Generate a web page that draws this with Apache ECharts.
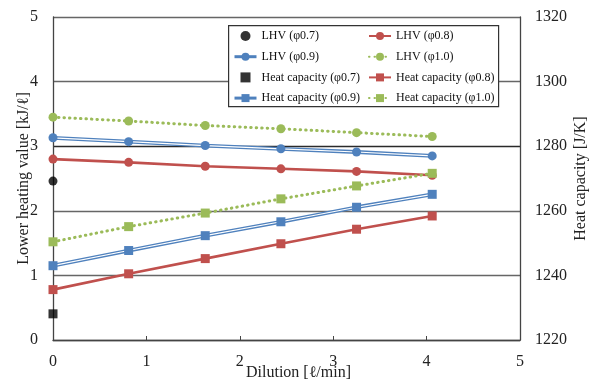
<!DOCTYPE html>
<html>
<head>
<meta charset="utf-8">
<script src="https://cdn.jsdelivr.net/npm/echarts@6/dist/echarts.min.js"></script>
<style>
  html, body { margin: 0; padding: 0; background: #fff; }
  #chart { width: 594px; height: 388px; }
</style>
</head>
<body>
<div id="chart"></div>
<script>
// Dilution flow rates [l/min]
const dilution = [0, 0.81, 1.63, 2.44, 3.25, 4.06];

// Lower heating value [kJ/l] per equivalence ratio
const lhv07 = [2.46];
const lhv08 = [2.80, 2.75, 2.69, 2.65, 2.61, 2.55];
const lhv09 = [3.13, 3.07, 3.01, 2.96, 2.91, 2.85];
const lhv10 = [3.45, 3.39, 3.32, 3.27, 3.21, 3.15];

// Heat capacity [J/K] per equivalence ratio
const hc07 = [1228.1];
const hc08 = [1235.6, 1240.5, 1245.2, 1249.8, 1254.3, 1258.4];
const hc09 = [1243.0, 1247.7, 1252.3, 1256.6, 1261.1, 1265.1];
const hc10 = [1250.4, 1255.1, 1259.3, 1263.7, 1267.7, 1271.6];

const leftTicks = [0, 1, 2, 3, 4, 5];
const rightTicks = [1220, 1240, 1260, 1280, 1300, 1320];
const xTicks = [0, 1, 2, 3, 4, 5];

const RED = '#C0504D', BLUE = '#4F81BD', GREEN = '#9BBB59', BLACK = '#000';
const FONT = "'Liberation Serif', 'Times New Roman', serif";
const SQUARE = 'path://M0,0L10,0L10,10L0,10Z';

const pairs = (xs, ys) => ys.map((y, i) => [xs[i], y]);

function solid(name, ys, axis, color, symbol) {
  return {
    name, type: 'line', yAxisIndex: axis, data: pairs(dilution, ys),
    symbol, symbolSize: 9, showSymbol: true,
    lineStyle: { color, width: 2.6 }, itemStyle: { color },
    z: 3
  };
}
function dotted(name, ys, axis, symbol) {
  return {
    name, type: 'line', yAxisIndex: axis, data: pairs(dilution, ys),
    symbol, symbolSize: 9,
    lineStyle: { color: GREEN, width: 3, type: [0.5, 5], cap: 'round' },
    itemStyle: { color: GREEN }, z: 3
  };
}
// double (compound) line: wide blue stroke under a thin white core
function doubleOutline(ys, axis) {
  return {
    name: '_outline', type: 'line', yAxisIndex: axis, data: pairs(dilution, ys),
    symbol: 'none', silent: true,
    lineStyle: { color: BLUE, width: 3.8 }, z: 3
  };
}
function doubleCore(name, ys, axis, symbol) {
  return {
    name, type: 'line', yAxisIndex: axis, data: pairs(dilution, ys),
    symbol, symbolSize: 9,
    lineStyle: { color: '#fff', width: 1.2 }, itemStyle: { color: BLUE }, z: 3
  };
}
function single(name, ys, axis, symbol) {
  return {
    name, type: 'scatter', yAxisIndex: axis, data: pairs(dilution, ys),
    symbol, symbolSize: 9, itemStyle: { color: BLACK }, z: 3
  };
}

const series = [
  single('LHV (φ0.7)', lhv07, 0, 'circle'),
  solid('LHV (φ0.8)', lhv08, 0, RED, 'circle'),
  doubleOutline(lhv09, 0),
  doubleCore('LHV (φ0.9)', lhv09, 0, 'circle'),
  dotted('LHV (φ1.0)', lhv10, 0, 'circle'),
  single('Heat capacity (φ0.7)', hc07, 1, 'rect'),
  solid('Heat capacity (φ0.8)', hc08, 1, RED, 'rect'),
  doubleOutline(hc09, 1),
  doubleCore('Heat capacity (φ0.9)', hc09, 1, 'rect'),
  dotted('Heat capacity (φ1.0)', hc10, 1, 'rect')
];

const legendCommon = {
  orient: 'vertical', padding: 0, top: 29,
  itemWidth: 22, itemHeight: 10, itemGap: 6.7,
  selectedMode: false,
  textStyle: { fontFamily: FONT, fontSize: 12, color: '#111', lineHeight: 14 },
  z: 10
};

const axisText = { fontFamily: FONT, fontSize: 16, color: '#222' };

const option = {
  animation: false,
  backgroundColor: '#fff',
  textStyle: { fontFamily: FONT },
  grid: { left: 53, right: 74, top: 17, bottom: 48, containLabel: false, outerBoundsMode: 'none' },
  graphic: [{
    type: 'rect', left: 228, top: 25, z: 5,
    shape: { width: 270, height: 81 },
    style: { fill: '#fff', stroke: '#333', lineWidth: 1.2 }
  }],
  legend: [
    Object.assign({}, legendCommon, {
      left: 233,
      data: [
        { name: 'LHV (φ0.7)', icon: 'circle', itemStyle: { color: BLACK } },
        { name: 'LHV (φ0.9)', lineStyle: { color: BLUE, width: 3 } },
        { name: 'Heat capacity (φ0.7)', icon: SQUARE, itemStyle: { color: BLACK } },
        { name: 'Heat capacity (φ0.9)', lineStyle: { color: BLUE, width: 3 } }
      ]
    }),
    Object.assign({}, legendCommon, {
      left: 368,
      data: ['LHV (φ0.8)', 'LHV (φ1.0)', 'Heat capacity (φ0.8)', 'Heat capacity (φ1.0)']
    })
  ],
  xAxis: {
    type: 'value', min: xTicks[0], max: xTicks[xTicks.length - 1], interval: 1,
    name: 'Dilution [ℓ/min]', nameLocation: 'middle', nameGap: 25, nameMoveOverlap: false,
    nameTextStyle: Object.assign({ padding: [0, 0, 0, 24] }, axisText),
    axisLine: { lineStyle: { color: '#444', width: 1.3 } },
    axisTick: { inside: true, length: 4, lineStyle: { color: '#444' } },
    axisLabel: Object.assign({ margin: 14 }, axisText),
    splitLine: { show: false }
  },
  yAxis: [{
    type: 'value', min: leftTicks[0], max: leftTicks[leftTicks.length - 1], interval: 1,
    position: 'left',
    name: 'Lower heating value [kJ/ℓ]', nameLocation: 'middle', nameRotate: 90, nameGap: 21,
    nameMoveOverlap: false,
    nameTextStyle: axisText,
    axisLine: { show: true, lineStyle: { color: '#444', width: 1.3 } },
    axisTick: { show: false },
    axisLabel: Object.assign({ margin: 15 }, axisText),
    splitLine: {
      show: true,
      lineStyle: { color: ['#666', '#666', '#666', '#2a2a2a', '#666', '#666'], width: 1.3 }
    }
  }, {
    type: 'value', min: rightTicks[0], max: rightTicks[rightTicks.length - 1], interval: 20,
    position: 'right',
    name: 'Heat capacity [J/K]', nameLocation: 'middle', nameRotate: 90, nameGap: 53,
    nameMoveOverlap: false,
    nameTextStyle: axisText,
    axisLine: { show: true, lineStyle: { color: '#444', width: 1.3 } },
    axisTick: { show: false },
    axisLabel: Object.assign({ margin: 15, formatter: v => String(v) }, axisText),
    splitLine: { show: false }
  }],
  series
};

echarts.init(document.getElementById('chart')).setOption(option);
</script>
</body>
</html>
